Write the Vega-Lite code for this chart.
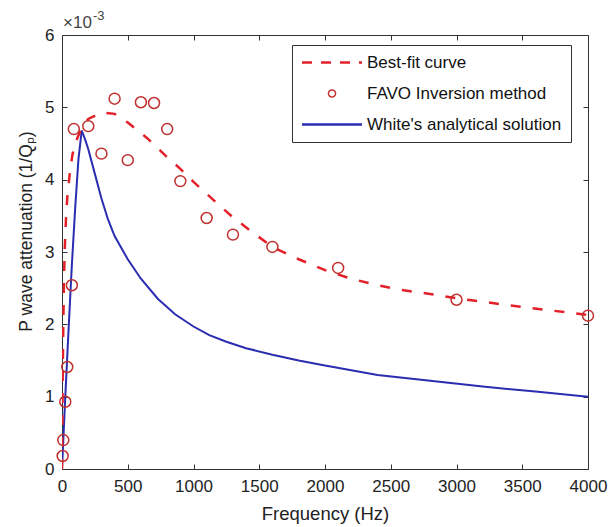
{
  "$schema": "https://vega.github.io/schema/vega-lite/v6.json",
  "autosize": "none",
  "width": 526,
  "height": 434,
  "padding": {"left": 62, "top": 35, "right": 20, "bottom": 58},
  "background": "white",
  "config": {
    "font": "Liberation Sans",
    "view": {"stroke": null},
    "axis": {"domainColor": "#333333", "tickColor": "#333333", "labelColor": "#222222", "titleColor": "#222222", "labelFont": "Liberation Sans", "titleFont": "Liberation Sans", "labelFontSize": 17, "titleFontSize": 18.5, "titleFontWeight": "normal", "grid": false, "domainWidth": 1, "tickWidth": 1}
  },
  "datasets": {
    "fit": [
      {"f": 0, "a": 0}, {"f": 3, "a": 0.0008}, {"f": 6, "a": 0.0014}, {"f": 10, "a": 0.002}, {"f": 15, "a": 0.0026}, {"f": 20, "a": 0.003}, {"f": 30, "a": 0.00345}, {"f": 40, "a": 0.00375}, {"f": 60, "a": 0.0041}, {"f": 80, "a": 0.00435}, {"f": 100, "a": 0.0045}, {"f": 150, "a": 0.00472}, {"f": 200, "a": 0.00484}, {"f": 300, "a": 0.00493}, {"f": 400, "a": 0.00491}, {"f": 500, "a": 0.00479}, {"f": 650, "a": 0.00457}, {"f": 800, "a": 0.00431}, {"f": 900, "a": 0.00415}, {"f": 1000, "a": 0.00397}, {"f": 1200, "a": 0.00364}, {"f": 1300, "a": 0.00348}, {"f": 1450, "a": 0.00327}, {"f": 1600, "a": 0.00307}, {"f": 1800, "a": 0.0029}, {"f": 2000, "a": 0.00275}, {"f": 2200, "a": 0.00263}, {"f": 2400, "a": 0.00254}, {"f": 2600, "a": 0.00247}, {"f": 2800, "a": 0.00242}, {"f": 3000, "a": 0.00236}, {"f": 3500, "a": 0.00224}, {"f": 4000, "a": 0.00213}
    ],
    "white": [
      {"f": 0, "a": 0}, {"f": 10, "a": 0.0004}, {"f": 25, "a": 0.001}, {"f": 50, "a": 0.00193}, {"f": 75, "a": 0.00282}, {"f": 100, "a": 0.0036}, {"f": 125, "a": 0.00428}, {"f": 150, "a": 0.00468}, {"f": 175, "a": 0.00456}, {"f": 200, "a": 0.00442}, {"f": 250, "a": 0.00408}, {"f": 300, "a": 0.00374}, {"f": 350, "a": 0.00345}, {"f": 400, "a": 0.00322}, {"f": 500, "a": 0.0029}, {"f": 600, "a": 0.00263}, {"f": 730, "a": 0.00235}, {"f": 860, "a": 0.00214}, {"f": 1000, "a": 0.00197}, {"f": 1120, "a": 0.00185}, {"f": 1250, "a": 0.00176}, {"f": 1400, "a": 0.00167}, {"f": 1600, "a": 0.00158}, {"f": 1800, "a": 0.0015}, {"f": 2000, "a": 0.00143}, {"f": 2400, "a": 0.0013}, {"f": 2800, "a": 0.00122}, {"f": 3200, "a": 0.00114}, {"f": 3600, "a": 0.00107}, {"f": 4000, "a": 0.001}
    ],
    "favo": [
      {"f": 5, "a": 0.00018}, {"f": 10, "a": 0.0004}, {"f": 25, "a": 0.00093}, {"f": 40, "a": 0.00141}, {"f": 75, "a": 0.00254}, {"f": 90, "a": 0.0047}, {"f": 200, "a": 0.00474}, {"f": 300, "a": 0.00436}, {"f": 400, "a": 0.00512}, {"f": 500, "a": 0.00427}, {"f": 600, "a": 0.00507}, {"f": 700, "a": 0.00506}, {"f": 800, "a": 0.0047}, {"f": 900, "a": 0.00398}, {"f": 1100, "a": 0.00347}, {"f": 1300, "a": 0.00324}, {"f": 1600, "a": 0.00307}, {"f": 2100, "a": 0.00278}, {"f": 3000, "a": 0.00234}, {"f": 4000, "a": 0.00212}
    ],
    "label": [{"t": "×10", "e": "-3"}]
  },
  "layer": [
    {
      "data": {"name": "white"},
      "mark": {"type": "line", "strokeWidth": 2, "clip": true},
      "encoding": {
        "x": {"field": "f", "type": "quantitative", "scale": {"domain": [0, 4000], "nice": false, "zero": false}, "axis": {"title": "Frequency (Hz)", "values": [0, 500, 1000, 1500, 2000, 2500, 3000, 3500, 4000], "format": "d", "tickSize": -5, "labelPadding": 14, "titlePadding": 10, "labelFlush": false}},
        "y": {"field": "a", "type": "quantitative", "scale": {"domain": [0, 0.006], "nice": false, "zero": false}, "axis": {"title": "P wave attenuation (1/Qₚ)", "values": [0, 0.001, 0.002, 0.003, 0.004, 0.005, 0.006], "labelExpr": "format(datum.value*1000, 'd')", "tickSize": -5, "labelPadding": 13, "titleFontSize": 17.5, "titleX": -36, "titleY": 196, "titleBaseline": "middle", "titleAlign": "center", "labelFlush": false}},
        "color": {"datum": "White's analytical solution", "type": "nominal",
          "scale": {"domain": ["Best-fit curve", "FAVO Inversion method", "White's analytical solution"], "range": ["#e3202a", "#c0302f", "#2a2db0"]},
          "legend": {
            "title": null, "orient": "none", "legendX": 230, "legendY": 10,
            "strokeColor": "#333333", "fillColor": "white", "padding": 9,
            "symbolSize": 3600, "symbolType": "stroke", "symbolStrokeWidth": 2.5,
            "labelFontSize": 17, "labelFont": "Liberation Sans", "labelColor": "#111111", "labelOffset": 6, "rowPadding": 13, "labelLimit": 400,
            "encode": {
              "symbols": {"update": {
                "x": {"value": 31},
                "shape": {"signal": "datum.value === 'FAVO Inversion method' ? 'circle' : 'stroke'"},
                "size": {"signal": "datum.value === 'FAVO Inversion method' ? 50 : 3600"},
                "strokeDash": {"signal": "datum.value === 'Best-fit curve' ? [10, 9] : [1, 0]"},
                "strokeWidth": {"signal": "datum.value === 'FAVO Inversion method' ? 1.5 : 2.5"},
                "fill": {"value": "transparent"}
              }},
              "labels": {"update": {"x": {"value": 66}}}
            }
          }
        }
      }
    },
    {
      "data": {"name": "fit"},
      "mark": {"type": "line", "strokeWidth": 2.5, "strokeDash": [10, 12], "clip": true},
      "encoding": {
        "x": {"field": "f", "type": "quantitative", "axis": null},
        "y": {"field": "a", "type": "quantitative", "axis": null},
        "color": {"datum": "Best-fit curve", "type": "nominal"}
      }
    },
    {
      "data": {"name": "favo"},
      "mark": {"type": "point", "filled": false, "size": 120, "strokeWidth": 1.5, "opacity": 1},
      "encoding": {
        "x": {"field": "f", "type": "quantitative", "axis": {"orient": "top", "title": null, "labels": false, "values": [0, 500, 1000, 1500, 2000, 2500, 3000, 3500, 4000], "tickSize": -5}},
        "y": {"field": "a", "type": "quantitative", "axis": {"orient": "right", "title": null, "labels": false, "values": [0, 0.001, 0.002, 0.003, 0.004, 0.005, 0.006], "tickSize": -5}},
        "color": {"datum": "FAVO Inversion method", "type": "nominal"}
      }
    },
    {
      "data": {"name": "label"},
      "mark": {"type": "text", "align": "left", "baseline": "alphabetic", "dx": 1, "dy": -7, "fontSize": 17, "color": "#444444", "font": "Liberation Sans"},
      "encoding": {
        "x": {"datum": 0, "type": "quantitative", "axis": null},
        "y": {"datum": 0.006, "type": "quantitative", "axis": null},
        "text": {"field": "t"}
      }
    },
    {
      "data": {"name": "label"},
      "mark": {"type": "text", "align": "left", "baseline": "alphabetic", "dx": 31, "dy": -15, "fontSize": 13, "color": "#444444", "font": "Liberation Sans"},
      "encoding": {
        "x": {"datum": 0, "type": "quantitative", "axis": null},
        "y": {"datum": 0.006, "type": "quantitative", "axis": null},
        "text": {"field": "e"}
      }
    }
  ],
  "resolve": {"axis": {"x": "independent", "y": "independent"}}
}
